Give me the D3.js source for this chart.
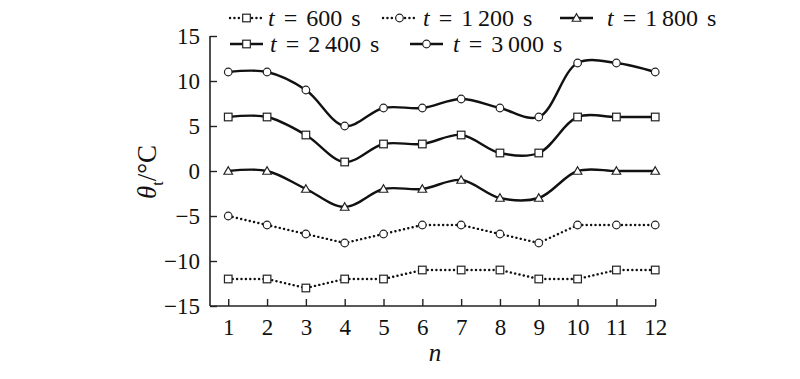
<!DOCTYPE html>
<html><head><meta charset="utf-8">
<script src="https://cdn.jsdelivr.net/npm/d3@7"></script>
<style>body{margin:0;background:#fff}svg{display:block}
svg text{font-family:"Liberation Serif","DejaVu Serif","Times New Roman",serif;}</style>
</head><body>
<svg id="c" width="800" height="379"></svg>
<script>
const categories = [1,2,3,4,5,6,7,8,9,10,11,12];
const s600  = [-12,-12,-13,-12,-12,-11,-11,-11,-12,-12,-11,-11];
const s1200 = [-5,-6,-7,-8,-7,-6,-6,-7,-8,-6,-6,-6];
const s1800 = [0,0,-2,-4,-2,-2,-1,-3,-3,0,0,0];
const s2400 = [6,6,4,1,3,3,4,2,2,6,6,6];
const s3000 = [11,11,9,5,7,7,8,7,6,12,12,11];
const seriesNames = ["600 s","1\u2009200 s","1\u2009800 s","2\u2009400 s","3\u2009000 s"];
const yTicks = [-15,-10,-5,0,5,10,15];

(function(){
const series = [
  {name: seriesNames[0], values: s600, dotted: true, marker: "square"},
  {name: seriesNames[1], values: s1200, dotted: true, marker: "circle"},
  {name: seriesNames[2], values: s1800, dotted: false, marker: "triangle"},
  {name: seriesNames[3], values: s2400, dotted: false, marker: "square"},
  {name: seriesNames[4], values: s3000, dotted: false, marker: "circle"}
];

const svg = d3.select("#c");
const pl = 210, pr = 656, pt = 36, pb = 306;
const x = d3.scaleLinear().domain([0.53, 12.02]).range([pl, pr]);
const y = d3.scaleLinear().domain([-15, 15]).range([pb, pt]);
const font = "Liberation Serif, DejaVu Serif, serif";

const yAxis = svg.append("g").attr("transform", `translate(${pl},0)`)
  .call(d3.axisLeft(y).tickValues(yTicks).tickSize(-7).tickPadding(10)
    .tickFormat(d => d < 0 ? "\u2212" + Math.abs(d) : d));
const xAxis = svg.append("g").attr("transform", `translate(0,${pb})`)
  .call(d3.axisBottom(x).tickValues(categories).tickSize(-7).tickPadding(13));
[yAxis, xAxis].forEach(g => {
  g.attr("font-family", font).attr("font-size", 23);
  g.select(".domain").attr("stroke", "#222").attr("stroke-width", 1.6);
  g.selectAll(".tick line").attr("stroke", "#222").attr("stroke-width", 1.4);
  g.selectAll(".tick text").attr("fill", "#111").attr("font-family", font).attr("font-size", 23);
});
yAxis.select(".domain").attr("d", `M0,${pt}V${pb}`);
xAxis.select(".domain").attr("d", `M${pl},0H${pr}`);

svg.append("text").attr("x", (pl+pr)/2 + 2).attr("y", 361)
  .attr("text-anchor", "middle").attr("font-family", font).attr("font-size", 25)
  .attr("font-style", "italic").attr("fill", "#111").text("n");
const yt = svg.append("text").attr("transform", `translate(156,172) rotate(-90)`)
  .attr("text-anchor", "middle").attr("font-family", font).attr("font-size", 27).attr("fill", "#111");
yt.append("tspan").attr("font-style", "italic").text("\u03b8");
yt.append("tspan").attr("dy", 7).attr("font-size", 16).text("t");
yt.append("tspan").attr("dy", -7).text("/\u00b0C");

function marker(g, type, cx, cy) {
  if (type === "square") {
    g.append("rect").attr("x", cx-3.8).attr("y", cy-3.8).attr("width", 7.6).attr("height", 7.6)
      .attr("fill", "#fff").attr("stroke", "#222").attr("stroke-width", 1.2);
  } else if (type === "circle") {
    g.append("circle").attr("cx", cx).attr("cy", cy).attr("r", 3.8)
      .attr("fill", "#fff").attr("stroke", "#222").attr("stroke-width", 1.2);
  } else {
    const s = 4.3;
    g.append("path").attr("d", `M${cx},${cy-s}L${cx+s},${cy+s*0.75}L${cx-s},${cy+s*0.75}Z`)
      .attr("fill", "#fff").attr("stroke", "#222").attr("stroke-width", 1.2);
  }
}

series.forEach(s => {
  const line = d3.line().x((d,i) => x(categories[i])).y(d => y(d))
    .curve(s.dotted ? d3.curveLinear : d3.curveCatmullRom.alpha(0.5));
  svg.append("path").attr("d", line(s.values)).attr("fill", "none")
    .attr("stroke", "#111").attr("stroke-width", 2.4)
    .attr("stroke-dasharray", s.dotted ? "0.1,4.3" : null)
    .attr("stroke-linecap", s.dotted ? "round" : "butt");
  const mg = svg.append("g");
  s.values.forEach((v,i) => marker(mg, s.marker, x(categories[i]), y(v)));
});

const legendPos = [
  {sx: 230, tx: 268, y: 18, w: 97}, {sx: 383, tx: 423, y: 18, w: 120}, {sx: 560, tx: 607, y: 18, w: 118},
  {sx: 230, tx: 270, y: 44, w: 117}, {sx: 410, tx: 453, y: 44, w: 120}
];
series.forEach((s, i) => {
  const p = legendPos[i];
  const g = svg.append("g");
  g.append("line").attr("x1", p.sx).attr("x2", p.sx + 33).attr("y1", p.y).attr("y2", p.y)
    .attr("stroke", "#111").attr("stroke-width", 2.4)
    .attr("stroke-dasharray", s.dotted ? "0.1,4.3" : null)
    .attr("stroke-linecap", s.dotted ? "round" : "butt");
  marker(g, s.marker, p.sx + 16.5, p.y);
  const t = g.append("text").attr("x", p.tx).attr("y", p.y + 8)
    .attr("font-family", font).attr("font-size", 24).attr("fill", "#111");
  t.append("tspan").attr("font-style", "italic").text("t");
  t.append("tspan").text(" = " + s.name);
  const actual = t.node().getComputedTextLength();
  const nSpaces = (" = " + s.name).split(" ").length - 1;
  const extra = Math.min(3, Math.max(0, (p.w - actual) / nSpaces));
  t.attr("word-spacing", extra.toFixed(2));
});
})();
</script>
</body></html>
